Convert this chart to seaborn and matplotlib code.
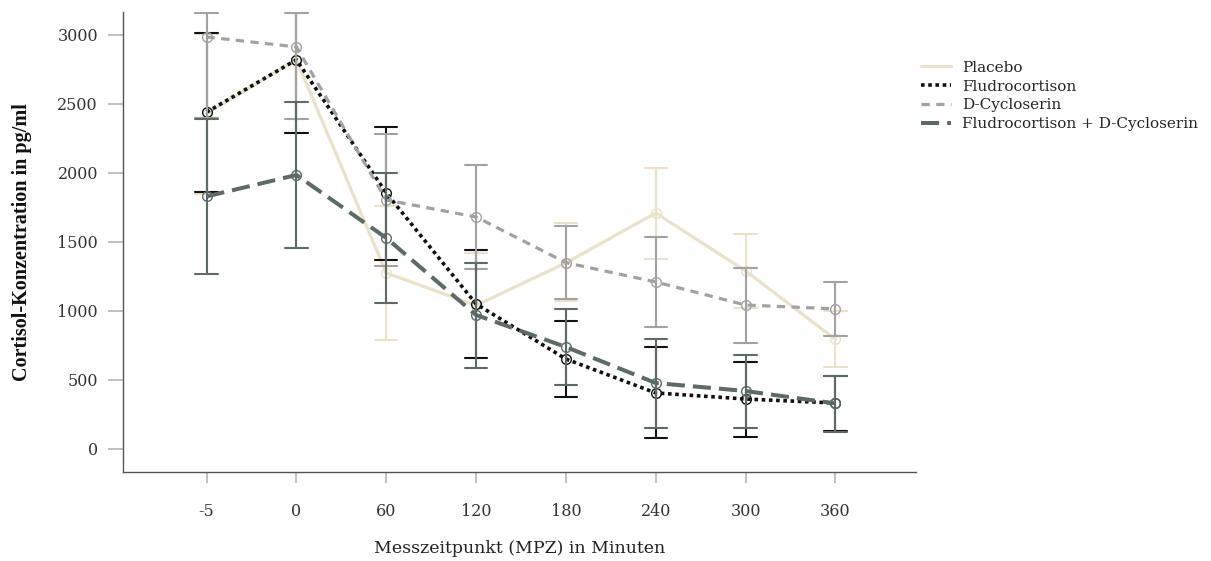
import matplotlib
matplotlib.use("Agg")
import matplotlib.pyplot as plt
from matplotlib.lines import Line2D
import seaborn as sns
import pandas as pd
import numpy as np


# Data

timepoints = ["-5", "0", "60", "120", "180", "240", "300", "360"]
series_names = ["Placebo", "Fludrocortison", "D-Cycloserin",
                "Fludrocortison + D-Cycloserin"]

placebo_mean = [2430, 2820, 1275, 1040, 1348, 1710, 1290, 795]
placebo_lo = [1850, 2290, 790, 660, 1070, 1380, 1020, 594]
placebo_hi = [3010, 3350, 1760, 1420, 1638, 2036, 1558, 1000]

fludro_mean = [2440, 2820, 1855, 1051, 652, 406, 362, 333]
fludro_lo = [1862, 2290, 1369, 659, 377, 80, 87, 130]
fludro_hi = [3014, 3350, 2330, 1440, 927, 739, 630, 530]

dcyc_mean = [2985, 2913, 1804, 1681, 1350, 1210, 1043, 1015]
dcyc_lo = [2400, 2391, 1326, 1304, 1085, 884, 770, 819]
dcyc_hi = [3160, 3160, 2282, 2058, 1616, 1536, 1311, 1210]

combo_mean = [1830, 1985, 1529, 971, 739, 478, 420, 330]
combo_lo = [1268, 1456, 1058, 587, 464, 155, 152, 123]
combo_hi = [2392, 2514, 2000, 1350, 1014, 797, 681, 529]


# Long table: lower / mean / upper per point
# (median -> mean, 100% interval -> [lower, upper])

def build_rows(name, lo, mean, hi):
    rows = []
    for t, a, b, c in zip(timepoints, lo, mean, hi):
        for v in (a, b, c):
            rows.append({"group": name, "time": t, "value": v})
    return rows

rows = []
rows += build_rows(series_names[0], placebo_lo, placebo_mean, placebo_hi)
rows += build_rows(series_names[1], fludro_lo, fludro_mean, fludro_hi)
rows += build_rows(series_names[2], dcyc_lo, dcyc_mean, dcyc_hi)
rows += build_rows(series_names[3], combo_lo, combo_mean, combo_hi)
df = pd.DataFrame(rows)


# Styles

colors = ["#E9E2CB", "#111111", "#A3A2A3", "#5E6A65"]
linestyles = ["-", (0, (1, 1)), (0, (2.6, 2)), (0, (4.5, 2))]
linewidths = [2.3, 2.6, 2.3, 2.9]

sns.set_style("white")
plt.rcParams["font.family"] = ["DejaVu Serif"]

fig = plt.figure(figsize=(12.11, 5.61), dpi=100)
ax = fig.add_axes([0.1016, 0.1586, 0.6550, 0.8200])

for name, c, ls, lw in zip(series_names, colors, linestyles, linewidths):
    sns.pointplot(data=df[df["group"] == name], x="time", y="value",
                  order=timepoints, estimator=np.median,
                  errorbar=("pi", 100), color=c, linestyle=ls,
                  linewidth=lw, marker="o", markersize=7,
                  markeredgewidth=1.0, markerfacecolor="none",
                  capsize=0.25, err_kws={"linewidth": 1.5}, ax=ax)

ax.set_xlim(-0.93, 7.9)
ax.set_ylim(-167, 3166)
ax.set_yticks([0, 500, 1000, 1500, 2000, 2500, 3000])

for s in ["top", "right"]:
    ax.spines[s].set_visible(False)
for s in ["left", "bottom"]:
    ax.spines[s].set_color("#555555")
    ax.spines[s].set_linewidth(1.0)

ax.tick_params(axis="y", left=True, length=11, width=1.4, color="#c0c0c0",
               pad=7, labelsize=11.5, labelcolor="#333333")
ax.tick_params(axis="x", bottom=True, length=8, width=1.4, color="#c0c0c0",
               pad=14, labelsize=11.5, labelcolor="#333333")

ax.set_xlabel("Messzeitpunkt (MPZ) in Minuten", fontsize=12.5,
              color="#222222")
ax.set_ylabel("Cortisol-Konzentration in pg/ml", fontsize=14.5,
              fontweight="bold", color="#111111",
              family=["Liberation Serif", "DejaVu Serif"])
ax.xaxis.set_label_coords(0.5, -0.148)
ax.yaxis.set_label_coords(-0.115, 0.5)

handles = [Line2D([0], [0], color=c, linestyle=ls, linewidth=lw)
           for c, ls, lw in zip(colors, linestyles, linewidths)]
fig.legend(handles, series_names, loc="upper left",
           bbox_to_anchor=(913 / 1211, 1 - 53 / 561), frameon=False,
           fontsize=11, handlelength=2.0, handletextpad=0.7,
           labelspacing=0.32, borderpad=0)

fig.savefig("out.png", dpi=100)
